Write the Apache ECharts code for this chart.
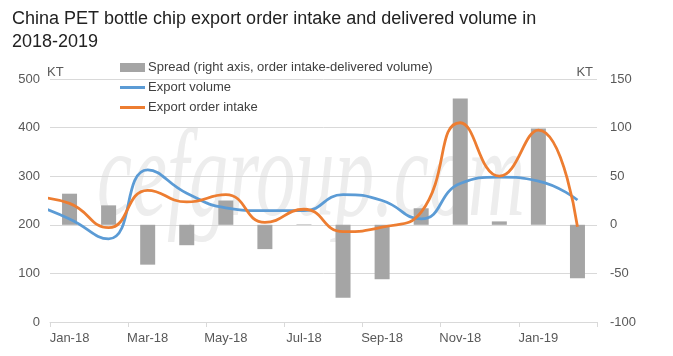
<!DOCTYPE html>
<html>
<head>
<meta charset="utf-8">
<script src="https://cdn.jsdelivr.net/npm/echarts@6/dist/echarts.min.js"></script>
<style>
html,body{margin:0;padding:0;background:#fff;}
#chart{width:673px;height:356px;}
</style>
</head>
<body>
<div id="chart"></div>
<script>
// ---- data ----
const months = ['Jan-18','Feb-18','Mar-18','Apr-18','May-18','Jun-18','Jul-18','Aug-18','Sep-18','Oct-18','Nov-18','Dec-18','Jan-19','Feb-19'];
const spread = [32, 20, -41, -21, 25, -25, 0.5, -75, -56, 17, 130, 3.5, 99, -55];
const exportVolume = [212, 171, 313, 265, 235, 229, 229, 262, 250, 212, 285, 298, 290, 251];
const orderIntake = [244, 194, 271, 247, 262, 205, 232, 186, 195, 226, 410, 300, 395, 196];
// preceding month (Dec-17), only its clipped tail shows at the left edge
const prevVolume = 244;
const prevIntake = 258;
const leftTicks = [0, 500, 100];
const rightTicks = [-100, 150, 50];

const toXY = (prev, arr) => [[-1, prev]].concat(arr.map((v, i) => [i, v]));

const chart = echarts.init(document.getElementById('chart'));
const txt = '#595959';
const font = 'Liberation Sans';
chart.setOption({
  animation: false,
  backgroundColor: '#fff',
  title: {
    text: 'China PET bottle chip export order intake and delivered volume in\n2018-2019',
    left: 7, top: 3,
    textStyle: {fontFamily: font, fontSize: 18, fontWeight: 'normal', color: '#222', lineHeight: 23}
  },
  graphic: [{
    type: 'text', x: 97, y: 182, scaleX: 0.63, silent: true, z: 0,
    style: {text: 'cefgroup.com', fontFamily: 'Liberation Serif', fontStyle: 'italic', fontSize: 125,
            fill: '#ededed', align: 'left', verticalAlign: 'middle'}
  }, {
    type: 'text', x: 47, y: 72, silent: true,
    style: {text: 'KT', fontFamily: font, fontSize: 13, fill: txt, align: 'left', verticalAlign: 'middle'}
  }, {
    type: 'text', x: 593, y: 72, silent: true,
    style: {text: 'KT', fontFamily: font, fontSize: 13, fill: txt, align: 'right', verticalAlign: 'middle'}
  }],
  legend: {
    orient: 'vertical', left: 115, top: 56, itemGap: 7, itemWidth: 25, itemHeight: 9,
    textStyle: {fontFamily: font, fontSize: 13, color: '#404040', padding: [0, 0, 0, -2]},
    data: [
      {name: 'Spread (right axis, order intake-delivered volume)', icon: 'rect'},
      {name: 'Export volume', icon: 'path://M0 0H25V3H0Z'},
      {name: 'Export order intake', icon: 'path://M0 0H25V3H0Z'}
    ]
  },
  grid: {left: 50, right: 76, top: 79, bottom: 34, containLabel: false},
  xAxis: [{
    type: 'category', data: months, boundaryGap: true,
    axisLine: {show: true, onZero: false, lineStyle: {color: '#d9d9d9', width: 1}},
    axisTick: {show: true, interval: 1, length: 5, lineStyle: {color: '#d9d9d9'}},
    axisLabel: {interval: 1, color: txt, fontFamily: font, fontSize: 13, margin: 10},
    splitLine: {show: false}
  }, {
    type: 'value', min: -0.5, max: 13.5, show: false
  }],
  yAxis: [{
    type: 'value', min: leftTicks[0], max: leftTicks[1], interval: leftTicks[2],
    axisLine: {show: false}, axisTick: {show: false},
    axisLabel: {color: txt, fontFamily: font, fontSize: 13, margin: 10},
    splitLine: {lineStyle: {color: '#d9d9d9', width: 1}}
  }, {
    type: 'value', min: rightTicks[0], max: rightTicks[1], interval: rightTicks[2], position: 'right',
    axisLine: {show: false}, axisTick: {show: false},
    axisLabel: {color: txt, fontFamily: font, fontSize: 13, margin: 13},
    splitLine: {show: false}
  }],
  series: [{
    name: 'Spread (right axis, order intake-delivered volume)', type: 'bar',
    xAxisIndex: 0, yAxisIndex: 1, data: spread, barWidth: 15,
    itemStyle: {color: '#a5a5a5'}, z: 2
  }, {
    name: 'Export volume', type: 'line', xAxisIndex: 1, yAxisIndex: 0,
    data: toXY(prevVolume, exportVolume), smooth: 0.5, symbol: 'none', clip: true,
    lineStyle: {color: '#5b9bd5', width: 2.8}, itemStyle: {color: '#5b9bd5'}, z: 3
  }, {
    name: 'Export order intake', type: 'line', xAxisIndex: 1, yAxisIndex: 0,
    data: toXY(prevIntake, orderIntake), smooth: 0.5, symbol: 'none', clip: true,
    lineStyle: {color: '#ed7d31', width: 2.8}, itemStyle: {color: '#ed7d31'}, z: 4
  }]
});
</script>
</body>
</html>
